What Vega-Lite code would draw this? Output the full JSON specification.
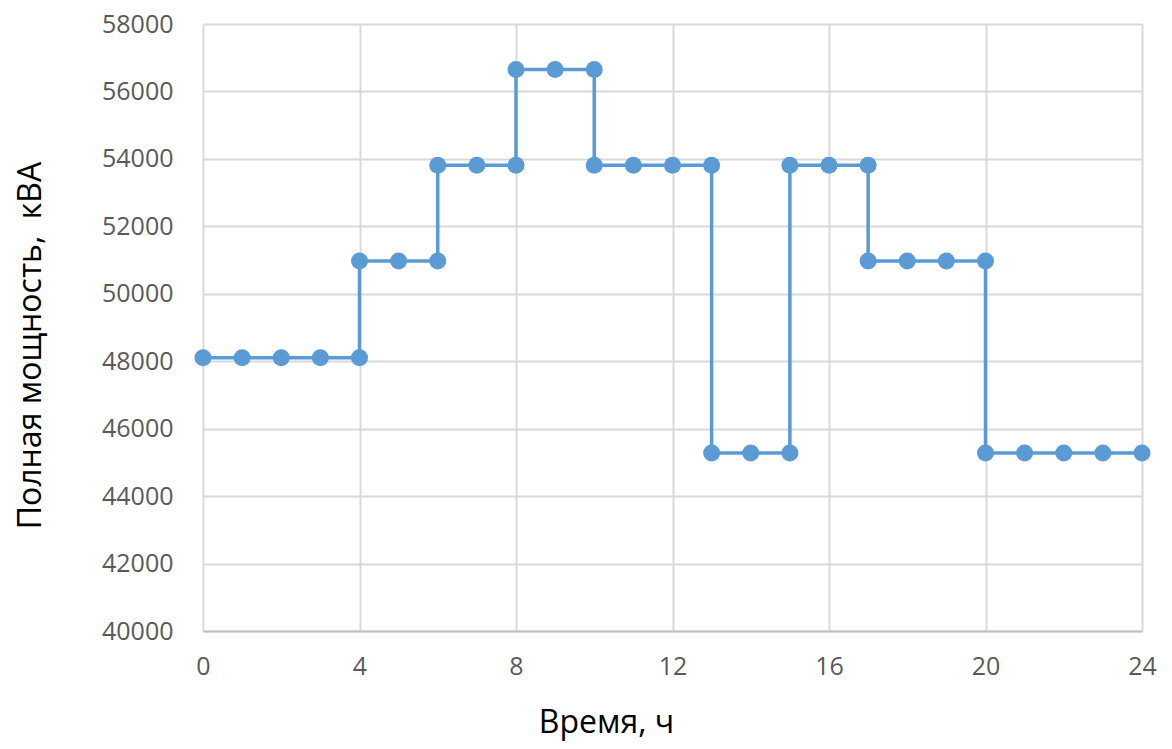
{
  "$schema": "https://vega.github.io/schema/vega-lite/v6.json",
  "width": 939,
  "height": 607,
  "autosize": {"type": "none"},
  "padding": {"left": 203, "top": 24, "right": 30, "bottom": 118},
  "background": "white",
  "config": {"view": {"stroke": null}},
  "data": {"values": [
    {"i": 1, "t": 0, "p": 48100},
    {"i": 2, "t": 1, "p": 48100},
    {"i": 3, "t": 2, "p": 48100},
    {"i": 4, "t": 3, "p": 48100},
    {"i": 5, "t": 4, "p": 48100},
    {"i": 6, "t": 4, "p": 50970},
    {"i": 7, "t": 5, "p": 50970},
    {"i": 8, "t": 6, "p": 50970},
    {"i": 9, "t": 6, "p": 53810},
    {"i": 10, "t": 7, "p": 53810},
    {"i": 11, "t": 8, "p": 53810},
    {"i": 12, "t": 8, "p": 56650},
    {"i": 13, "t": 9, "p": 56650},
    {"i": 14, "t": 10, "p": 56650},
    {"i": 15, "t": 10, "p": 53810},
    {"i": 16, "t": 11, "p": 53810},
    {"i": 17, "t": 12, "p": 53810},
    {"i": 18, "t": 13, "p": 53810},
    {"i": 19, "t": 13, "p": 45280},
    {"i": 20, "t": 14, "p": 45280},
    {"i": 21, "t": 15, "p": 45280},
    {"i": 22, "t": 15, "p": 53810},
    {"i": 23, "t": 16, "p": 53810},
    {"i": 24, "t": 17, "p": 53810},
    {"i": 25, "t": 17, "p": 50970},
    {"i": 26, "t": 18, "p": 50970},
    {"i": 27, "t": 19, "p": 50970},
    {"i": 28, "t": 20, "p": 50970},
    {"i": 29, "t": 20, "p": 45280},
    {"i": 30, "t": 21, "p": 45280},
    {"i": 31, "t": 22, "p": 45280},
    {"i": 32, "t": 23, "p": 45280},
    {"i": 33, "t": 24, "p": 45280}
  ]},
  "encoding": {
    "x": {"field": "t", "type": "quantitative",
      "scale": {"domain": [0, 24], "nice": false, "zero": false},
      "axis": {"values": [0, 4, 8, 12, 16, 20, 24], "title": "Время, ч",
        "titleFont": "Open Sans", "titleFontSize": 32, "titleFontWeight": "normal", "titleColor": "#000000",
        "titleX": 403, "titleY": 91, "titleAlign": "center", "titleBaseline": "middle",
        "labelFont": "Open Sans", "labelFontSize": 25, "labelColor": "#595959", "labelPadding": 23,
        "labelFlush": false, "labelOverlap": false,
        "ticks": false, "domainColor": "#BFBFBF", "domainWidth": 2,
        "gridColor": "#D9D9D9", "gridWidth": 2}},
    "y": {"field": "p", "type": "quantitative",
      "scale": {"domain": [40000, 58000], "nice": false, "zero": false},
      "axis": {"values": [40000, 42000, 44000, 46000, 48000, 50000, 52000, 54000, 56000, 58000],
        "format": "d", "title": "Полная мощность,\u00a0 кВА",
        "titleFont": "Open Sans", "titleFontSize": 32, "titleFontWeight": "normal", "titleColor": "#000000",
        "titleX": -173, "titleY": 321, "titleAlign": "center", "titleBaseline": "middle", "titleAngle": -90,
        "labelFont": "Open Sans", "labelFontSize": 25, "labelColor": "#595959", "labelPadding": 30,
        "labelFlush": false, "labelOverlap": false,
        "ticks": false, "domain": false,
        "gridColor": "#D9D9D9", "gridWidth": 2}}
  },
  "layer": [
    {"mark": {"type": "line", "color": "#5B9BD5", "strokeWidth": 3.5},
     "encoding": {"order": {"field": "i", "type": "quantitative"}}},
    {"mark": {"type": "point", "filled": true, "color": "#5B9BD5", "opacity": 1, "size": 290}}
  ]
}
